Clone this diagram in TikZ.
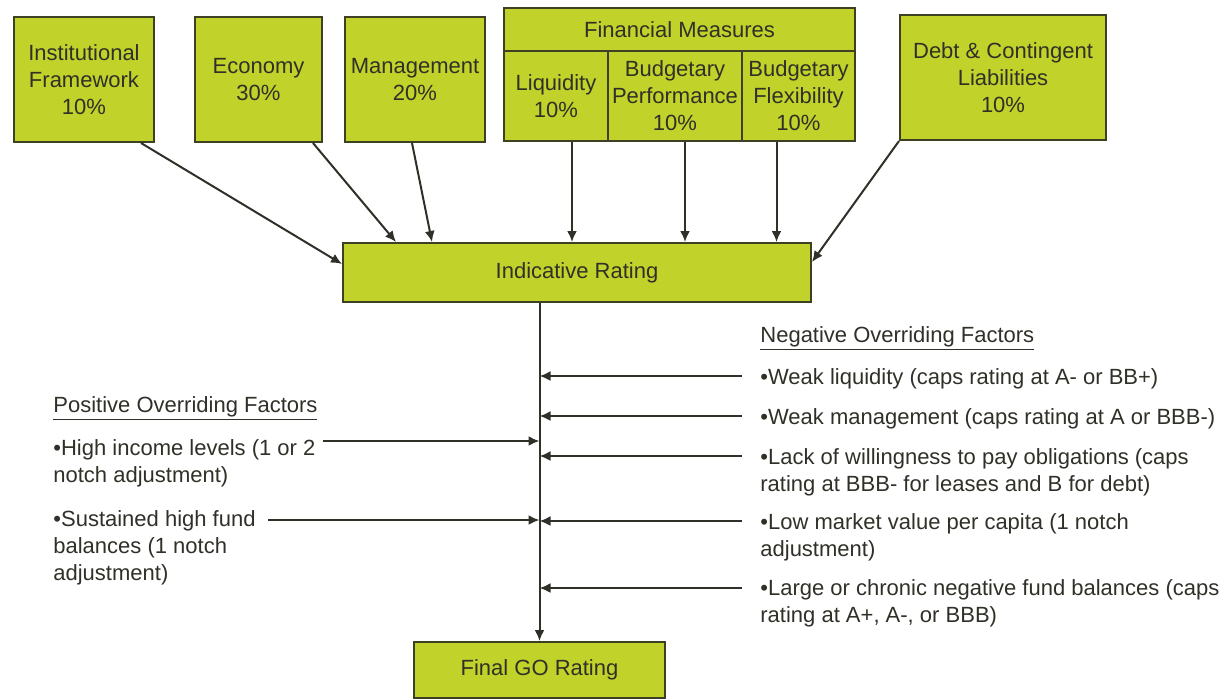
\documentclass[tikz,border=0pt]{standalone}
\usepackage{fontspec}
\setmainfont{Liberation Sans}
\usetikzlibrary{arrows.meta,calc}

\definecolor{boxgreen}{RGB}{193,210,42}
\definecolor{boxline}{RGB}{62,64,36}
\definecolor{inkgray}{RGB}{48,48,40}

\begin{document}
\begin{tikzpicture}[x=0.5pt,y=-0.5pt,>={Latex[length=5.5pt,width=5pt]},
  factor/.style={draw=boxline,fill=boxgreen,line width=1pt,align=center,inner sep=0pt,
    text=inkgray,font=\fontsize{11}{13.5}\selectfont},
  note/.style={anchor=north west,align=left,inner sep=0pt,text=inkgray,
    font=\fontsize{11}{13.5}\selectfont},
  link/.style={->,draw=inkgray,line width=1pt}]
  \useasboundingbox (0,0) rectangle (1224,698);

  % weighted factors
  \node[factor,minimum width=70pt,minimum height=62.5pt] (inst) at (84,79.5) {Institutional\\Framework\\10\%};
  \node[factor,minimum width=63.5pt,minimum height=62.5pt] (econ) at (258.5,79.5) {Economy\\30\%};
  \node[factor,minimum width=70pt,minimum height=62.5pt] (mgmt) at (415,79.5) {Management\\20\%};
  \node[factor,minimum width=175.5pt,minimum height=21.5pt] (fin) at (679.5,29.5) {Financial Measures};
  \node[factor,minimum width=52pt,minimum height=45pt] (liq) at (556,96) {Liquidity\\10\%};
  \node[factor,minimum width=67pt,minimum height=45pt] (bperf) at (675,96) {Budgetary\\Performance\\10\%};
  \node[factor,minimum width=56.5pt,minimum height=45pt] (bflex) at (798.5,96) {Budgetary\\Flexibility\\10\%};
  \node[factor,minimum width=103pt,minimum height=62.5pt] (debt) at (1003,77.5) {Debt \& Contingent\\Liabilities\\10\%};

  % ratings
  \node[factor,minimum width=234pt,minimum height=29.5pt] (ind) at (577,272.5) {Indicative Rating};
  \node[factor,minimum width=125.5pt,minimum height=28pt] (final) at (539.5,670) {Final GO Rating};

  \coordinate (liqout) at ($(liq.south)+(16,0)$);
  \coordinate (bperfout) at ($(bperf.south)+(10,0)$);
  \coordinate (bflexout) at ($(bflex.south)+(-22,0)$);

  \draw[link] ($(inst.south east)+(-14,0)$) -- ($(ind.north west)+(0,22)$);
  \draw[link] ($(econ.south east)+(-10,0)$) -- ($(ind.north west)+(54,0)$);
  \draw[link] ($(mgmt.south west)+(68,0)$) -- ($(ind.north west)+(90,0)$);
  \draw[link] (liqout) -- (liqout |- ind.north);
  \draw[link] (bperfout) -- (bperfout |- ind.north);
  \draw[link] (bflexout) -- (bflexout |- ind.north);
  \draw[link] (debt.south west) -- ($(ind.north east)+(0,20)$);
  \draw[link] (ind.south -| final.north) -- (final.north);

  % overriding factors
  \node[note] (posh) at (53,393) {\strut\underline{Positive Overriding Factors}};
  \node[note] (pos1) at (53,436) {\strut•High income levels (1 or 2\\notch adjustment)};
  \node[note] (pos2) at (53,507) {\strut•Sustained high fund\\balances (1 notch\\adjustment)};

  \node[note] (negh) at (760,323) {\strut\underline{Negative Overriding Factors}};
  \node[note] (neg1) at (760,365) {\strut•Weak liquidity (caps rating at A- or BB+)};
  \node[note] (neg2) at (760,405) {\strut•Weak management (caps rating at A or BBB-)};
  \node[note] (neg3) at (760,445) {\strut•Lack of willingness to pay obligations (caps\\rating at BBB- for leases and B for debt)};
  \node[note] (neg4) at (760,510) {\strut•Low market value per capita (1 notch\\adjustment)};
  \node[note] (neg5) at (760,576) {\strut•Large or chronic negative fund balances (caps\\rating at A+, A-, or BBB)};

  \coordinate (pa1) at (323,441);
  \coordinate (pa2) at (268,520);
  \draw[link] (pa1) -- (pa1 -| final.north);
  \draw[link] (pa2) -- (pa2 -| final.north);
  \foreach \k/\y in {1/376,2/416,3/456,4/521,5/588}{
    \coordinate (na\k) at (742,\y);
    \draw[link] (na\k) -- (na\k -| final.north);
  }
\end{tikzpicture}
\end{document}
